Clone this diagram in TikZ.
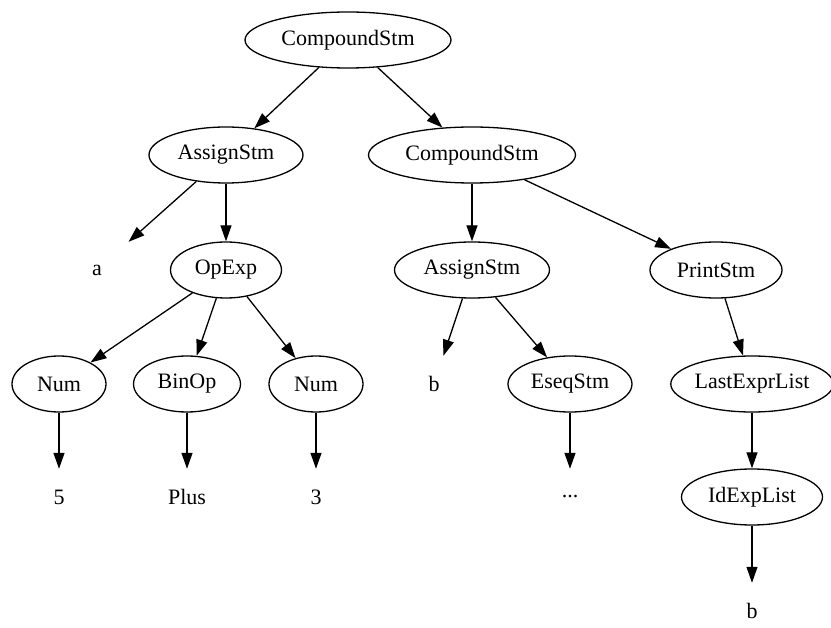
\documentclass[tikz,border=0pt]{standalone}
\usepackage{fontspec}
\setmainfont{Liberation Serif}
\usetikzlibrary{shapes,arrows.meta}

\tikzset{
  ast/.style={draw, ellipse, line width=1.3pt, minimum height=56pt, inner sep=0pt,
    font=\fontsize{22}{26}\selectfont},
  leaf/.style={rectangle, minimum width=84pt, minimum height=56pt, inner sep=0pt,
    font=\fontsize{22}{26}\selectfont},
  tree/.style={-{Triangle[length=16pt,width=11pt]}, line width=1.3pt}
}

\begin{document}
\begin{tikzpicture}[x=1pt, y=-1pt]
\useasboundingbox (0,0) rectangle (831,628);

\node[ast, minimum width=206pt] (cs1) at (348,40) {CompoundStm};
\node[ast, minimum width=154pt] (as1) at (226,155) {AssignStm};
\node[ast, minimum width=207pt] (cs2) at (472,155) {CompoundStm};

\node[leaf] (a) at (97,270) {a};
\node[ast, minimum width=111pt] (op) at (226,270) {OpExp};
\node[ast, minimum width=155pt] (as2) at (472,270) {AssignStm};
\node[ast, minimum width=132pt] (pr) at (716,270) {PrintStm};

\node[ast, minimum width=94pt] (num1) at (59,384) {Num};
\node[ast, minimum width=107pt] (bin) at (187,384) {BinOp};
\node[ast, minimum width=94pt] (num2) at (316,384) {Num};
\node[leaf] (b1) at (434,384) {b};
\node[ast, minimum width=124pt] (es) at (570,384) {EseqStm};
\node[ast, minimum width=156pt] (le) at (752,384) {LastExprList};

\node[leaf] (five) at (59,497) {5};
\node[leaf] (plus) at (187,497) {Plus};
\node[leaf] (three) at (316,497) {3};
\node[leaf] (dots) at (570,497) {...};
\node[ast, minimum width=141pt] (id) at (752,497) {IdExpList};

\node[leaf] (b2) at (752,611) {b};

\draw[tree] (cs1) -- (as1);
\draw[tree] (cs1) -- (cs2);
\draw[tree] (as1) -- (a);
\draw[tree] (as1) -- (op);
\draw[tree] (cs2) -- (as2);
\draw[tree] (cs2) -- (pr);
\draw[tree] (op) -- (num1);
\draw[tree] (op) -- (bin);
\draw[tree] (op) -- (num2);
\draw[tree] (as2) -- (b1);
\draw[tree] (as2) -- (es);
\draw[tree] (pr) -- (le);
\draw[tree] (num1) -- (five);
\draw[tree] (bin) -- (plus);
\draw[tree] (num2) -- (three);
\draw[tree] (es) -- (dots);
\draw[tree] (le) -- (id);
\draw[tree] (id) -- (b2);
\end{tikzpicture}
\end{document}
